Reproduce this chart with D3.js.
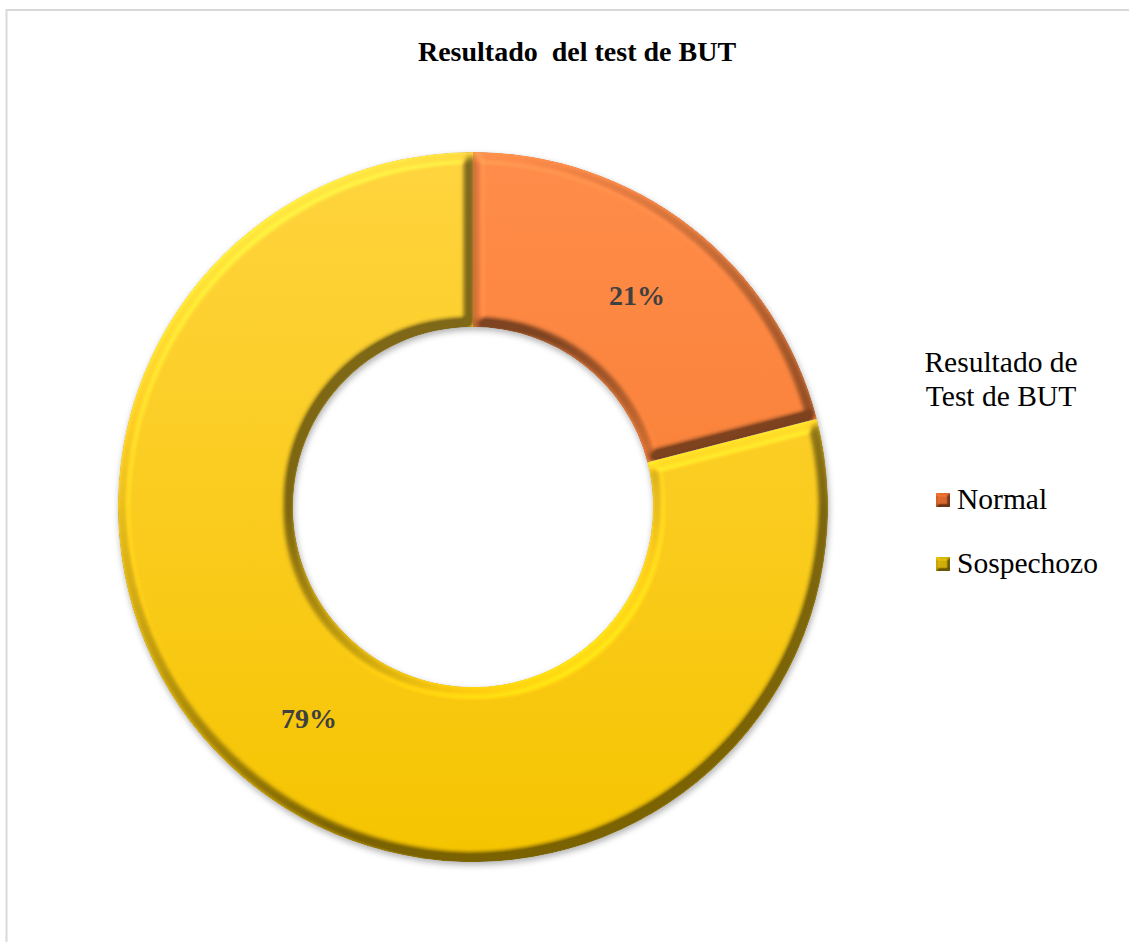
<!DOCTYPE html>
<html>
<head>
<meta charset="utf-8">
<script src="https://cdn.jsdelivr.net/npm/d3@7"></script>
<style>
  body { margin: 0; background: #fff; }
  svg { display: block; font-family: "Liberation Serif", "Times New Roman", serif; }
</style>
</head>
<body>
<div id="chart-area"></div>
<script>
const categories = ['Normal', 'Sospechozo'];
const values = [21, 79];
const labels = ['21%', '79%'];
const legendTitle = ['Resultado de', 'Test de BUT'];
const chartTitle = 'Resultado  del test de BUT';

const width = 1129;
const height = 942;
const cx = 473;
const cy = 507;
const outerR = 355;
const innerR = 180;

// face colours (top, bottom) per slice
const faceTop = ['#ff8c4a', '#ffd43e'];
const faceBottom = ['#f47828', '#f5c400'];
const legendFill = ['#d9682c', '#cfae08'];

const svg = d3.select('#chart-area')
  .append('svg')
  .attr('width', width)
  .attr('height', height);

const defs = svg.append('defs');

function bevelFilter(id, erode, blur, scale, elev, shadow) {
  const f = defs.append('filter')
    .attr('id', id)
    .attr('x', '-10%').attr('y', '-10%')
    .attr('width', '120%').attr('height', '120%')
    .attr('color-interpolation-filters', 'sRGB');
  if (shadow) {
    f.append('feGaussianBlur').attr('in', 'SourceAlpha').attr('stdDeviation', 3).attr('result', 'sb');
    f.append('feOffset').attr('in', 'sb').attr('dx', 1).attr('dy', 3).attr('result', 'so');
    f.append('feFlood').attr('flood-color', '#000').attr('flood-opacity', 0.3).attr('result', 'fl');
    f.append('feComposite').attr('in', 'fl').attr('in2', 'so').attr('operator', 'in').attr('result', 'shadow');
  }
  f.append('feMorphology').attr('in', 'SourceAlpha').attr('operator', 'erode').attr('radius', erode).attr('result', 'er');
  f.append('feGaussianBlur').attr('in', 'er').attr('stdDeviation', blur).attr('result', 'blur');
  f.append('feDiffuseLighting')
    .attr('in', 'blur')
    .attr('surfaceScale', scale)
    .attr('diffuseConstant', 1)
    .attr('lighting-color', 'white')
    .attr('result', 'diff')
    .append('feDistantLight').attr('azimuth', 235).attr('elevation', elev);
  const base = 0.5;
  f.append('feComposite')
    .attr('in', 'SourceGraphic').attr('in2', 'diff')
    .attr('operator', 'arithmetic')
    .attr('k1', (1 - base) / Math.sin(elev * Math.PI / 180)).attr('k2', base).attr('k3', 0).attr('k4', 0)
    .attr('result', 'lit');
  f.append('feComposite').attr('in', 'lit').attr('in2', 'SourceAlpha').attr('operator', 'in').attr('result', 'litc');
  const merge = f.append('feMerge');
  if (shadow) merge.append('feMergeNode').attr('in', 'shadow');
  merge.append('feMergeNode').attr('in', 'litc');
}
bevelFilter('bevel', 4, 3.5, 10, 50, true);
bevelFilter('bevelSmall', 1, 1.2, 3, 50, false);

categories.forEach((c, i) => {
  const g = defs.append('linearGradient')
    .attr('id', `face${i}`)
    .attr('gradientUnits', 'userSpaceOnUse')
    .attr('x1', 0).attr('y1', -outerR)
    .attr('x2', 0).attr('y2', outerR);
  g.append('stop').attr('offset', '0%').attr('stop-color', faceTop[i]);
  g.append('stop').attr('offset', '100%').attr('stop-color', faceBottom[i]);
});

// chart frame
svg.append('path')
  .attr('d', `M6.5,${height + 5}V10H${width + 5}`)
  .attr('fill', 'none')
  .attr('stroke', '#d9d9d9')
  .attr('stroke-width', 2);

svg.append('text')
  .attr('x', 577)
  .attr('y', 61)
  .attr('text-anchor', 'middle')
  .attr('font-size', 28)
  .attr('font-weight', 'bold')
  .style('white-space', 'pre')
  .text(chartTitle);

const pie = d3.pie().sort(null).value((d) => d);
const arcs = pie(values);
const arc = d3.arc().innerRadius(innerR).outerRadius(outerR);

const donut = svg.append('g').attr('transform', `translate(${cx},${cy})`);

donut.selectAll('path')
  .data(arcs)
  .join('path')
  .attr('d', arc)
  .attr('fill', (d, i) => `url(#face${i})`)
  .attr('filter', 'url(#bevel)');

donut.selectAll('text')
  .data(arcs)
  .join('text')
  .attr('x', (d) => arc.centroid(d)[0])
  .attr('y', (d) => arc.centroid(d)[1])
  .attr('dy', '0.35em')
  .attr('text-anchor', 'middle')
  .attr('font-size', 28)
  .attr('font-weight', 'bold')
  .attr('fill', '#404040')
  .text((d, i) => labels[i]);

// legend
const legend = svg.append('g');
legend.selectAll('text.title')
  .data(legendTitle)
  .join('text')
  .attr('class', 'title')
  .attr('x', 1001)
  .attr('y', (d, i) => 372 + i * 34)
  .attr('text-anchor', 'middle')
  .attr('font-size', 29.5)
  .text((d) => d);

const items = legend.selectAll('g.item')
  .data(categories)
  .join('g')
  .attr('class', 'item')
  .attr('transform', (d, i) => `translate(936,${493 + i * 64})`);

items.append('rect')
  .attr('width', 14)
  .attr('height', 14)
  .attr('fill', (d, i) => legendFill[i])
  .attr('filter', 'url(#bevelSmall)');

items.append('text')
  .attr('x', 21)
  .attr('y', 16)
  .attr('font-size', 29.5)
  .text((d) => d);
</script>
</body>
</html>
